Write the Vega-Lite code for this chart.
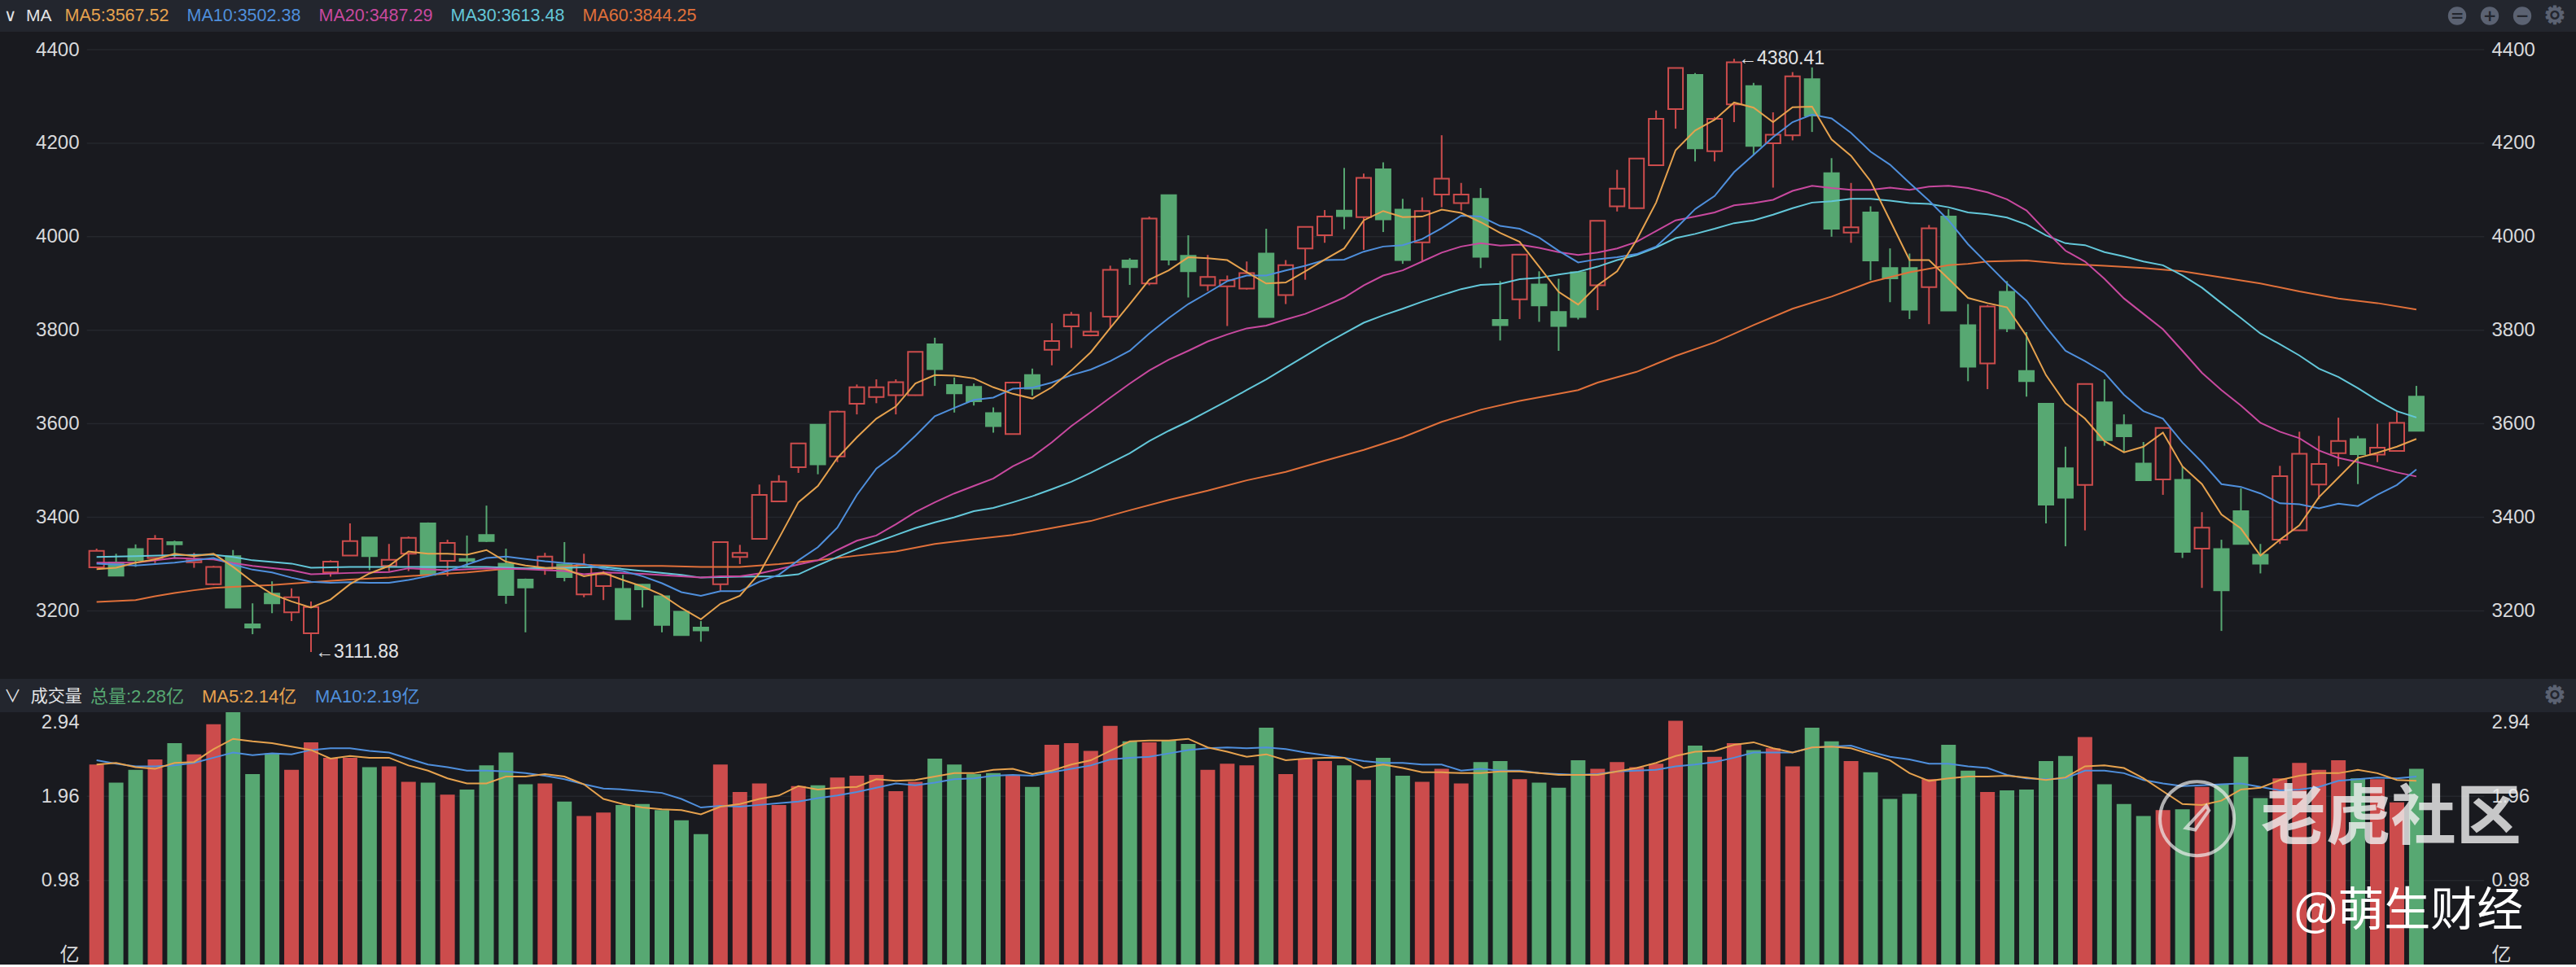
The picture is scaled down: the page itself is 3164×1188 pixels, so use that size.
{
  "$schema": "https://vega.github.io/schema/vega-lite/v6.json",
  "background": "#191a1f",
  "padding": 0,
  "spacing": 0,
  "bounds": "flush",
  "datasets": {
    "days": [
      {"i":0,"open":3293,"close":3328,"high":3333,"low":3293,"vol":2.33,"dir":"up","MA5":3289,"MA10":3301,"MA20":3303,"MA30":3315,"MA60":3219,"volMA5":2.33,"volMA10":2.38},
      {"i":1,"open":3303,"close":3275,"high":3322,"low":3275,"vol":2.12,"dir":"down","MA5":3292,"volMA5":2.35,"volMA10":2.34},
      {"i":2,"open":3332,"close":3308,"high":3342,"low":3294,"vol":2.27,"dir":"down","MA5":3303,"MA10":3297,"MA20":3303,"MA30":3317,"MA60":3223,"volMA5":2.30,"volMA10":2.31},
      {"i":3,"open":3313,"close":3354,"high":3362,"low":3302,"vol":2.39,"dir":"up","MA5":3310,"MA60":3231,"volMA5":2.28,"volMA10":2.31},
      {"i":4,"open":3347,"close":3342,"high":3350,"low":3313,"vol":2.58,"dir":"down","MA5":3322,"MA10":3303,"MA20":3313,"MA30":3319,"MA60":3238,"volMA5":2.35,"volMA10":2.32},
      {"i":5,"open":3304,"close":3308,"high":3324,"low":3292,"vol":2.45,"dir":"up","MA5":3317,"MA60":3244,"volMA5":2.36,"volMA10":2.35},
      {"i":6,"open":3257,"close":3294,"high":3296,"low":3255,"vol":2.80,"dir":"up","MA5":3322,"MA10":3313,"MA20":3310,"MA30":3320,"MA60":3249,"volMA5":2.51,"volMA10":2.41},
      {"i":7,"open":3317,"close":3207,"high":3330,"low":3207,"vol":2.94,"dir":"down","MA5":3294,"MA10":3299,"MA20":3302,"MA30":3315,"MA60":3251,"volMA5":2.63,"volMA10":2.47},
      {"i":8,"open":3171,"close":3164,"high":3216,"low":3150,"vol":2.22,"dir":"down","MA5":3262,"MA10":3288,"MA20":3296,"MA30":3308,"volMA5":2.60,"volMA10":2.44},
      {"i":9,"open":3237,"close":3216,"high":3263,"low":3195,"vol":2.46,"dir":"down","MA5":3236,"MA10":3282,"MA60":3255,"volMA5":2.58,"volMA10":2.46},
      {"i":10,"open":3197,"close":3229,"high":3248,"low":3178,"vol":2.27,"dir":"up","MA5":3220,"MA10":3271,"MA20":3287,"MA30":3301,"volMA5":2.54,"volMA10":2.45},
      {"i":11,"open":3152,"close":3208,"high":3220,"low":3111.88,"vol":2.59,"dir":"up","lowNote":"←3111.88","MA5":3207,"MA10":3262,"MA20":3278,"MA30":3292,"MA60":3261,"volMA5":2.50,"volMA10":2.50},
      {"i":12,"open":3282,"close":3305,"high":3308,"low":3273,"vol":2.41,"dir":"up","MA5":3224,"MA10":3260,"volMA5":2.40,"volMA10":2.52},
      {"i":13,"open":3318,"close":3349,"high":3387,"low":3318,"vol":2.41,"dir":"up","MA5":3257,"MA10":3261,"MA20":3281,"MA30":3294,"MA60":3267,"volMA5":2.43,"volMA10":2.52},
      {"i":14,"open":3357,"close":3317,"high":3357,"low":3287,"vol":2.30,"dir":"down","MA5":3280,"MA10":3260,"volMA5":2.41,"volMA10":2.49},
      {"i":15,"open":3296,"close":3309,"high":3343,"low":3285,"vol":2.31,"dir":"up","MA5":3296,"MA10":3260,"MA20":3283,"MA60":3271,"volMA5":2.41,"volMA10":2.47},
      {"i":16,"open":3322,"close":3356,"high":3359,"low":3285,"vol":2.13,"dir":"up","MA5":3327,"MA10":3266,"MA20":3291,"MA30":3294,"volMA5":2.32,"volMA10":2.40},
      {"i":17,"open":3387,"close":3277,"high":3389,"low":3276,"vol":2.12,"dir":"down","MA5":3322,"MA10":3274,"MA60":3277,"volMA5":2.26,"volMA10":2.33},
      {"i":18,"open":3307,"close":3345,"high":3352,"low":3274,"vol":1.98,"dir":"up","MA5":3322,"MA10":3285,"MA20":3287,"volMA5":2.17,"volMA10":2.30},
      {"i":19,"open":3311,"close":3307,"high":3361,"low":3294,"vol":2.04,"dir":"down","MA5":3320,"MA10":3299,"MA60":3282,"volMA5":2.11,"volMA10":2.26},
      {"i":20,"open":3362,"close":3349,"high":3425,"low":3347,"vol":2.32,"dir":"down","MA5":3330,"MA10":3313,"MA20":3291,"MA30":3294,"volMA5":2.11,"volMA10":2.26},
      {"i":21,"open":3301,"close":3234,"high":3333,"low":3215,"vol":2.47,"dir":"down","MA5":3305,"MA10":3316,"MA60":3290,"volMA5":2.19,"volMA10":2.25},
      {"i":22,"open":3267,"close":3250,"high":3269,"low":3154,"vol":2.10,"dir":"down","MA5":3297,"MA10":3311,"MA20":3289,"MA30":3291,"volMA5":2.19,"volMA10":2.23},
      {"i":23,"open":3290,"close":3316,"high":3324,"low":3277,"vol":2.11,"dir":"up","MA5":3292,"MA10":3306,"MA60":3291,"volMA5":2.22,"volMA10":2.20},
      {"i":24,"open":3299,"close":3272,"high":3347,"low":3263,"vol":1.90,"dir":"down","MA5":3290,"MA10":3302,"MA20":3285,"MA30":3292,"volMA5":2.19,"volMA10":2.16},
      {"i":25,"open":3235,"close":3298,"high":3322,"low":3229,"vol":1.73,"dir":"up","MA5":3274,"MA10":3300,"MA20":3278,"MA60":3298,"volMA5":2.10,"volMA10":2.10},
      {"i":26,"open":3253,"close":3278,"high":3285,"low":3223,"vol":1.77,"dir":"up","MA5":3281,"MA10":3290,"MA20":3282,"MA30":3294,"volMA5":1.93,"volMA10":2.05},
      {"i":27,"open":3247,"close":3182,"high":3277,"low":3182,"vol":1.86,"dir":"down","MA5":3266,"MA10":3285,"MA60":3296,"volMA5":1.87,"volMA10":2.04},
      {"i":28,"open":3256,"close":3246,"high":3257,"low":3207,"vol":1.87,"dir":"down","MA5":3252,"MA10":3274,"MA20":3279,"MA30":3285,"volMA5":1.83,"volMA10":2.02},
      {"i":29,"open":3231,"close":3170,"high":3231,"low":3154,"vol":1.80,"dir":"down","MA5":3234,"MA10":3259,"MA60":3296,"volMA5":1.81,"volMA10":2.00},
      {"i":30,"open":3198,"close":3148,"high":3199,"low":3147,"vol":1.68,"dir":"down","MA5":3206,"MA10":3240,"MA20":3274,"MA30":3277,"volMA5":1.80,"volMA10":1.93},
      {"i":31,"open":3164,"close":3158,"high":3178,"low":3134,"vol":1.52,"dir":"down","MA5":3182,"MA10":3232,"MA20":3271,"MA30":3271,"MA60":3294,"volMA5":1.75,"volMA10":1.83},
      {"i":32,"open":3257,"close":3347,"high":3348,"low":3243,"vol":2.33,"dir":"up","MA5":3215,"MA10":3242,"MA20":3274,"volMA5":1.84,"volMA10":1.85},
      {"i":33,"open":3315,"close":3324,"high":3341,"low":3300,"vol":2.01,"dir":"up","MA5":3232,"MA10":3242,"MA20":3274,"MA30":3273,"MA60":3294,"volMA5":1.87,"volMA10":1.84},
      {"i":34,"open":3354,"close":3448,"high":3470,"low":3353,"vol":2.11,"dir":"up","MA5":3280,"MA10":3262,"MA20":3280,"volMA5":1.93,"volMA10":1.86},
      {"i":35,"open":3434,"close":3476,"high":3490,"low":3434,"vol":1.86,"dir":"up","MA5":3355,"MA10":3277,"MA20":3289,"MA30":3274,"MA60":3300,"volMA5":1.97,"volMA10":1.88},
      {"i":36,"open":3507,"close":3558,"high":3559,"low":3495,"vol":2.08,"dir":"up","MA5":3432,"MA10":3308,"MA20":3299,"MA30":3278,"volMA5":2.08,"volMA10":1.90},
      {"i":37,"open":3598,"close":3513,"high":3599,"low":3492,"vol":2.09,"dir":"down","MA5":3467,"MA10":3336,"MA20":3308,"MA30":3297,"MA60":3308,"volMA5":2.04,"volMA10":1.94},
      {"i":38,"open":3530,"close":3626,"high":3628,"low":3518,"vol":2.18,"dir":"up","MA5":3527,"MA10":3378,"MA20":3330,"MA30":3315,"volMA5":2.06,"volMA10":1.97},
      {"i":39,"open":3643,"close":3678,"high":3684,"low":3620,"vol":2.20,"dir":"up","MA5":3571,"MA10":3448,"MA20":3350,"MA30":3332,"MA60":3318,"volMA5":2.07,"volMA10":2.01},
      {"i":40,"open":3657,"close":3678,"high":3695,"low":3644,"vol":2.21,"dir":"up","MA5":3611,"MA10":3504,"MA20":3361,"MA30":3347,"volMA5":2.16,"volMA10":2.06},
      {"i":41,"open":3661,"close":3689,"high":3695,"low":3620,"vol":2.02,"dir":"up","MA5":3637,"MA10":3535,"MA20":3385,"MA30":3362,"MA60":3327,"volMA5":2.14,"volMA10":2.11},
      {"i":42,"open":3661,"close":3754,"high":3754,"low":3660,"vol":2.13,"dir":"up","MA5":3686,"MA10":3574,"MA20":3411,"MA30":3377,"volMA5":2.15,"volMA10":2.09},
      {"i":43,"open":3770,"close":3717,"high":3784,"low":3681,"vol":2.40,"dir":"down","MA5":3704,"MA10":3616,"MA20":3432,"MA30":3389,"MA60":3343,"volMA5":2.19,"volMA10":2.12},
      {"i":44,"open":3683,"close":3665,"high":3699,"low":3624,"vol":2.33,"dir":"down","MA5":3703,"MA10":3634,"MA20":3451,"MA30":3400,"volMA5":2.23,"volMA10":2.16},
      {"i":45,"open":3679,"close":3648,"high":3686,"low":3639,"vol":2.22,"dir":"down","MA5":3697,"MA10":3651,"MA20":3467,"MA30":3413,"MA60":3353,"volMA5":2.23,"volMA10":2.17},
      {"i":46,"open":3623,"close":3595,"high":3635,"low":3581,"vol":2.23,"dir":"down","MA5":3678,"MA10":3656,"MA20":3483,"MA30":3420,"volMA5":2.27,"volMA10":2.20},
      {"i":47,"open":3578,"close":3688,"high":3690,"low":3577,"vol":2.20,"dir":"up","MA5":3664,"MA10":3675,"MA20":3509,"MA30":3432,"MA60":3362,"volMA5":2.28,"volMA10":2.21},
      {"i":48,"open":3704,"close":3675,"high":3718,"low":3660,"vol":2.07,"dir":"down","MA5":3654,"MA10":3677,"MA20":3529,"MA30":3445,"volMA5":2.22,"volMA10":2.20},
      {"i":49,"open":3758,"close":3777,"high":3815,"low":3725,"vol":2.56,"dir":"up","MA5":3678,"MA10":3688,"MA20":3560,"MA30":3460,"MA60":3377,"volMA5":2.26,"volMA10":2.24},
      {"i":50,"open":3808,"close":3833,"high":3839,"low":3762,"vol":2.58,"dir":"up","MA5":3714,"MA10":3704,"MA20":3595,"MA30":3476,"volMA5":2.33,"volMA10":2.28},
      {"i":51,"open":3789,"close":3797,"high":3839,"low":3787,"vol":2.49,"dir":"up","MA5":3753,"MA10":3716,"MA20":3625,"MA30":3495,"MA60":3392,"volMA5":2.38,"volMA10":2.32},
      {"i":52,"open":3829,"close":3929,"high":3938,"low":3805,"vol":2.78,"dir":"up","MA5":3805,"MA10":3734,"MA20":3656,"MA30":3516,"volMA5":2.49,"volMA10":2.39},
      {"i":53,"open":3949,"close":3935,"high":3954,"low":3897,"vol":2.60,"dir":"down","MA5":3856,"MA10":3756,"MA20":3686,"MA30":3537,"MA60":3415,"volMA5":2.60,"volMA10":2.41},
      {"i":54,"open":3900,"close":4039,"high":4043,"low":3896,"vol":2.59,"dir":"up","MA5":3908,"MA10":3793,"MA20":3714,"MA30":3563,"volMA5":2.61,"volMA10":2.42},
      {"i":55,"open":4089,"close":3951,"high":4090,"low":3939,"vol":2.61,"dir":"down","MA5":3928,"MA10":3826,"MA20":3737,"MA30":3585,"MA60":3437,"volMA5":2.61,"volMA10":2.46},
      {"i":56,"open":3959,"close":3926,"high":4003,"low":3870,"vol":2.57,"dir":"down","MA5":3956,"MA10":3856,"MA20":3756,"MA30":3605,"volMA5":2.63,"volMA10":2.50},
      {"i":57,"open":3896,"close":3914,"high":3961,"low":3884,"vol":2.27,"dir":"up","MA5":3954,"MA10":3880,"MA20":3776,"MA30":3627,"MA60":3457,"volMA5":2.53,"volMA10":2.52},
      {"i":58,"open":3894,"close":3907,"high":3917,"low":3809,"vol":2.34,"dir":"up","MA5":3950,"MA10":3905,"MA20":3791,"MA30":3649,"volMA5":2.48,"volMA10":2.53},
      {"i":59,"open":3889,"close":3922,"high":3947,"low":3887,"vol":2.32,"dir":"up","MA5":3924,"MA10":3917,"MA20":3804,"MA30":3672,"MA60":3479,"volMA5":2.42,"volMA10":2.52},
      {"i":60,"open":3964,"close":3828,"high":4017,"low":3828,"vol":2.76,"dir":"down","MA5":3900,"MA10":3917,"MA20":3810,"MA30":3695,"volMA5":2.45,"volMA10":2.53},
      {"i":61,"open":3875,"close":3939,"high":3950,"low":3856,"vol":2.22,"dir":"up","MA5":3902,"MA10":3928,"MA20":3823,"MA30":3720,"MA60":3497,"volMA5":2.38,"volMA10":2.51},
      {"i":62,"open":3975,"close":4021,"high":4022,"low":3908,"vol":2.40,"dir":"up","MA5":3926,"MA10":3938,"MA20":3835,"MA30":3745,"volMA5":2.40,"volMA10":2.47},
      {"i":63,"open":4003,"close":4043,"high":4057,"low":3987,"vol":2.37,"dir":"up","MA5":3951,"MA10":3950,"MA20":3852,"MA30":3770,"MA60":3521,"volMA5":2.41,"volMA10":2.44},
      {"i":64,"open":4056,"close":4044,"high":4147,"low":4016,"vol":2.32,"dir":"down","MA5":3975,"MA10":3951,"MA20":3870,"MA30":3793,"volMA5":2.41,"volMA10":2.41},
      {"i":65,"open":4042,"close":4126,"high":4135,"low":3972,"vol":2.15,"dir":"up","MA5":4035,"MA10":3968,"MA20":3896,"MA30":3816,"MA60":3544,"volMA5":2.29,"volMA10":2.37},
      {"i":66,"open":4144,"close":4037,"high":4159,"low":4010,"vol":2.41,"dir":"down","MA5":4055,"MA10":3979,"MA20":3917,"MA30":3832,"volMA5":2.33,"volMA10":2.35},
      {"i":67,"open":4058,"close":3950,"high":4081,"low":3942,"vol":2.20,"dir":"down","MA5":4042,"MA10":3982,"MA20":3928,"MA30":3846,"MA60":3571,"volMA5":2.29,"volMA10":2.35},
      {"i":68,"open":3988,"close":4055,"high":4084,"low":3949,"vol":2.13,"dir":"up","MA5":4043,"MA10":3995,"MA20":3947,"MA30":3861,"volMA5":2.24,"volMA10":2.33},
      {"i":69,"open":4090,"close":4124,"high":4217,"low":4063,"vol":2.28,"dir":"up","MA5":4058,"MA10":4018,"MA20":3966,"MA30":3875,"MA60":3604,"volMA5":2.24,"volMA10":2.33},
      {"i":70,"open":4072,"close":4090,"high":4115,"low":4056,"vol":2.11,"dir":"up","MA5":4051,"MA10":4045,"MA20":3979,"MA30":3888,"volMA5":2.23,"volMA10":2.26},
      {"i":71,"open":4081,"close":3957,"high":4104,"low":3933,"vol":2.36,"dir":"down","MA5":4031,"MA10":4043,"MA20":3986,"MA30":3897,"MA60":3630,"volMA5":2.23,"volMA10":2.28},
      {"i":72,"open":3822,"close":3811,"high":3905,"low":3778,"vol":2.37,"dir":"down","MA5":4008,"MA10":4023,"MA20":3981,"MA30":3899,"volMA5":2.25,"volMA10":2.26},
      {"i":73,"open":3866,"close":3962,"high":3963,"low":3824,"vol":2.16,"dir":"up","MA5":3989,"MA10":4017,"MA20":3983,"MA30":3909,"MA60":3649,"volMA5":2.25,"volMA10":2.26},
      {"i":74,"open":3898,"close":3853,"high":3926,"low":3818,"vol":2.12,"dir":"down","MA5":3936,"MA10":3998,"MA20":3976,"MA30":3912,"volMA5":2.23,"volMA10":2.23},
      {"i":75,"open":3839,"close":3809,"high":3910,"low":3756,"vol":2.06,"dir":"down","MA5":3882,"MA10":3970,"MA20":3967,"MA30":3919,"MA60":3664,"volMA5":2.21,"volMA10":2.22},
      {"i":76,"open":3924,"close":3828,"high":3924,"low":3823,"vol":2.38,"dir":"down","MA5":3855,"MA10":3945,"MA20":3961,"MA30":3925,"MA60":3672,"volMA5":2.21,"volMA10":2.21},
      {"i":77,"open":3896,"close":4034,"high":4034,"low":3843,"vol":2.28,"dir":"up","MA5":3896,"MA10":3952,"MA20":3966,"MA30":3936,"MA60":3688,"volMA5":2.21,"volMA10":2.22},
      {"i":78,"open":4065,"close":4103,"high":4143,"low":4054,"vol":2.36,"dir":"up","MA5":3926,"MA10":3956,"MA20":3975,"MA30":3950,"volMA5":2.25,"volMA10":2.25},
      {"i":79,"open":4061,"close":4167,"high":4167,"low":4060,"vol":2.30,"dir":"up","MA5":3993,"MA10":3963,"MA20":3989,"MA30":3961,"MA60":3711,"volMA5":2.29,"volMA10":2.26},
      {"i":80,"open":4153,"close":4252,"high":4270,"low":4152,"vol":2.34,"dir":"up","MA5":4073,"MA10":3979,"MA20":4012,"MA30":3977,"volMA5":2.35,"volMA10":2.27},
      {"i":81,"open":4273,"close":4361,"high":4361,"low":4231,"vol":2.84,"dir":"up","MA5":4185,"MA10":4017,"MA20":4035,"MA30":3997,"MA60":3745,"volMA5":2.43,"volMA10":2.31},
      {"i":82,"open":4346,"close":4189,"high":4350,"low":4161,"vol":2.55,"dir":"down","MA5":4227,"MA10":4059,"MA20":4043,"MA30":4006,"volMA5":2.48,"volMA10":2.33},
      {"i":83,"open":4183,"close":4252,"high":4256,"low":4161,"vol":2.42,"dir":"up","MA5":4250,"MA10":4087,"MA20":4052,"MA30":4017,"MA60":3774,"volMA5":2.49,"volMA10":2.36},
      {"i":84,"open":4283,"close":4373,"high":4380.41,"low":4245,"vol":2.58,"dir":"up","highNote":"←4380.41","MA5":4287,"MA10":4138,"MA20":4067,"MA30":4029,"volMA5":2.56,"volMA10":2.41},
      {"i":85,"open":4322,"close":4194,"high":4329,"low":4175,"vol":2.50,"dir":"down","MA5":4276,"MA10":4175,"MA20":4072,"MA30":4035,"MA60":3811,"volMA5":2.59,"volMA10":2.47},
      {"i":86,"open":4200,"close":4218,"high":4266,"low":4105,"vol":2.52,"dir":"up","MA5":4245,"MA10":4213,"MA20":4079,"MA30":4047,"volMA5":2.52,"volMA10":2.47},
      {"i":87,"open":4217,"close":4343,"high":4352,"low":4206,"vol":2.31,"dir":"up","MA5":4277,"MA10":4245,"MA20":4098,"MA30":4061,"MA60":3846,"volMA5":2.47,"volMA10":2.47},
      {"i":88,"open":4337,"close":4259,"high":4362,"low":4224,"vol":2.76,"dir":"down","MA5":4278,"MA10":4261,"MA20":4109,"MA30":4073,"volMA5":2.53,"volMA10":2.53},
      {"i":89,"open":4136,"close":4017,"high":4168,"low":4000,"vol":2.60,"dir":"down","MA5":4208,"MA10":4253,"MA20":4104,"MA30":4076,"MA60":3872,"volMA5":2.54,"volMA10":2.54},
      {"i":90,"open":4009,"close":4020,"high":4115,"low":3987,"vol":2.37,"dir":"up","MA5":4173,"MA10":4222,"MA20":4100,"MA30":4081,"volMA5":2.52,"volMA10":2.55},
      {"i":91,"open":4052,"close":3949,"high":4065,"low":3907,"vol":2.24,"dir":"down","MA5":4119,"MA10":4182,"MA20":4100,"MA30":4081,"MA60":3903,"volMA5":2.45,"volMA10":2.48},
      {"i":92,"open":3933,"close":3911,"high":3975,"low":3860,"vol":1.93,"dir":"down","MA5":4035,"MA10":4154,"MA20":4105,"MA30":4077,"volMA5":2.38,"volMA10":2.42},
      {"i":93,"open":3933,"close":3844,"high":3964,"low":3824,"vol":1.99,"dir":"down","MA5":3950,"MA10":4115,"MA20":4100,"MA30":4072,"MA60":3924,"volMA5":2.23,"volMA10":2.39},
      {"i":94,"open":3892,"close":4018,"high":4025,"low":3813,"vol":2.16,"dir":"up","MA5":3950,"MA10":4077,"MA20":4107,"MA30":4070,"volMA5":2.14,"volMA10":2.34},
      {"i":95,"open":4043,"close":3842,"high":4059,"low":3842,"vol":2.56,"dir":"down","MA5":3910,"MA10":4035,"MA20":4109,"MA30":4063,"MA60":3939,"volMA5":2.17,"volMA10":2.34},
      {"i":96,"open":3811,"close":3722,"high":3856,"low":3691,"vol":2.26,"dir":"down","MA5":3869,"MA10":3984,"MA20":4104,"MA30":4052,"MA60":3942,"volMA5":2.19,"volMA10":2.31},
      {"i":97,"open":3729,"close":3851,"high":3854,"low":3674,"vol":2.01,"dir":"up","MA5":3858,"MA10":3942,"MA20":4095,"MA30":4048,"MA60":3947,"volMA5":2.19,"volMA10":2.29},
      {"i":98,"open":3882,"close":3804,"high":3905,"low":3796,"vol":2.03,"dir":"down","MA5":3849,"MA10":3900,"MA20":4080,"MA30":4041,"volMA5":2.20,"volMA10":2.21},
      {"i":99,"open":3713,"close":3691,"high":3796,"low":3658,"vol":2.04,"dir":"down","MA5":3788,"MA10":3863,"MA20":4056,"MA30":4026,"MA60":3949,"volMA5":2.18,"volMA10":2.17},
      {"i":100,"open":3643,"close":3427,"high":3643,"low":3387,"vol":2.37,"dir":"down","MA5":3704,"MA10":3807,"MA20":4012,"MA30":4003,"volMA5":2.15,"volMA10":2.16},
      {"i":101,"open":3505,"close":3442,"high":3551,"low":3338,"vol":2.43,"dir":"down","MA5":3644,"MA10":3756,"MA20":3970,"MA30":3986,"MA60":3942,"volMA5":2.18,"volMA10":2.17},
      {"i":102,"open":3469,"close":3685,"high":3685,"low":3372,"vol":2.65,"dir":"up","MA5":3611,"MA10":3734,"MA20":3947,"MA30":3982,"volMA5":2.31,"volMA10":2.26},
      {"i":103,"open":3646,"close":3565,"high":3695,"low":3553,"vol":2.10,"dir":"down","MA5":3563,"MA10":3709,"MA20":3910,"MA30":3967,"MA60":3938,"volMA5":2.32,"volMA10":2.26},
      {"i":104,"open":3597,"close":3573,"high":3620,"low":3539,"vol":1.87,"dir":"down","MA5":3539,"MA10":3662,"MA20":3868,"MA30":3958,"volMA5":2.29,"volMA10":2.23},
      {"i":105,"open":3515,"close":3479,"high":3561,"low":3479,"vol":1.73,"dir":"down","MA5":3551,"MA10":3627,"MA20":3835,"MA30":3947,"MA60":3933,"volMA5":2.17,"volMA10":2.15},
      {"i":106,"open":3481,"close":3591,"high":3592,"low":3448,"vol":1.80,"dir":"up","MA5":3581,"MA10":3611,"MA20":3802,"MA30":3939,"volMA5":2.02,"volMA10":2.11},
      {"i":107,"open":3480,"close":3326,"high":3509,"low":3313,"vol":1.81,"dir":"down","MA5":3509,"MA10":3560,"MA20":3756,"MA30":3917,"MA60":3926,"volMA5":1.87,"volMA10":2.08},
      {"i":108,"open":3333,"close":3378,"high":3411,"low":3249,"vol":2.07,"dir":"up","MA5":3471,"MA10":3518,"MA20":3709,"MA30":3891,"volMA5":1.86,"volMA10":2.09},
      {"i":109,"open":3332,"close":3244,"high":3352,"low":3157,"vol":2.10,"dir":"down","MA5":3406,"MA10":3471,"MA20":3672,"MA30":3858,"MA60":3913,"volMA5":1.91,"volMA10":2.10},
      {"i":110,"open":3413,"close":3343,"high":3462,"low":3343,"vol":2.42,"dir":"down","MA5":3376,"MA10":3465,"MA20":3639,"MA30":3826,"volMA5":2.04,"volMA10":2.11},
      {"i":111,"open":3320,"close":3301,"high":3343,"low":3280,"vol":1.94,"dir":"down","MA5":3318,"MA10":3451,"MA20":3602,"MA30":3793,"MA60":3900,"volMA5":2.06,"volMA10":2.07},
      {"i":112,"open":3352,"close":3488,"high":3510,"low":3343,"vol":2.17,"dir":"up","MA5":3352,"MA10":3430,"MA20":3583,"MA30":3770,"volMA5":2.15,"volMA10":2.03},
      {"i":113,"open":3372,"close":3536,"high":3583,"low":3371,"vol":2.35,"dir":"up","MA5":3383,"MA10":3428,"MA20":3569,"MA30":3746,"MA60":3883,"volMA5":2.20,"volMA10":2.04},
      {"i":114,"open":3470,"close":3514,"high":3574,"low":3439,"vol":2.27,"dir":"up","MA5":3443,"MA10":3419,"MA20":3543,"MA30":3718,"volMA5":2.23,"volMA10":2.07},
      {"i":115,"open":3537,"close":3563,"high":3613,"low":3509,"vol":2.38,"dir":"up","MA5":3485,"MA10":3429,"MA20":3527,"MA30":3700,"MA60":3868,"volMA5":2.23,"volMA10":2.14},
      {"i":116,"open":3567,"close":3535,"high":3574,"low":3471,"vol":2.17,"dir":"down","MA5":3527,"MA10":3424,"MA20":3518,"MA30":3676,"volMA5":2.27,"volMA10":2.16},
      {"i":117,"open":3534,"close":3549,"high":3600,"low":3518,"vol":2.16,"dir":"up","MA5":3538,"MA10":3448,"MA20":3507,"MA30":3650,"MA60":3858,"volMA5":2.23,"volMA10":2.18},
      {"i":118,"open":3542,"close":3602,"high":3625,"low":3542,"vol":1.89,"dir":"up","MA5":3551,"MA10":3469,"MA20":3496,"MA30":3627,"volMA5":2.15,"volMA10":2.17},
      {"i":119,"open":3658,"close":3585,"high":3681,"low":3585,"vol":2.28,"dir":"down","MA5":3567.52,"MA10":3502.38,"MA20":3487.29,"MA30":3613.48,"MA60":3844.25,"volMA5":2.14,"volMA10":2.19}
    ]
  },
  "vconcat": [
    {
      "width": 3164,
      "height": 39,
      "view": {"fill": "#23262e", "stroke": null},
      "data": {"values": [
        {"icon": "reset", "glyph": "="},
        {"icon": "in", "glyph": "+"},
        {"icon": "out", "glyph": "−"},
        {"icon": "settings", "glyph": "⚙"}
      ]},
      "encoding": {
        "x": {"field": "icon", "type": "nominal", "axis": null, "sort": null,
          "scale": {"type": "point", "domain": ["reset", "in", "out", "settings"], "range": [3018, 3138], "padding": 0}},
        "text": {"field": "glyph"}
      },
      "layer": [
        {"transform": [{"filter": "datum.icon !== 'settings'"}],
         "mark": {"type": "point", "shape": "circle", "filled": true, "size": 500, "color": "#5b6272", "opacity": 1}},
        {"transform": [{"filter": "datum.icon !== 'settings'"}],
         "mark": {"type": "text", "font": "DejaVu Sans", "fontSize": 20, "fontWeight": "bold", "color": "#23262e"}},
        {"transform": [{"filter": "datum.icon === 'settings'"}],
         "mark": {"type": "text", "font": "DejaVu Sans", "fontSize": 30, "color": "#5b6272", "stroke": "#5b6272", "strokeWidth": 1.5}}
      ]
    },
    {
      "width": 3164,
      "height": 795,
      "data": {"name": "days"},
      "resolve": {"axis": {"y": "independent"}},
      "layer": [
        {
          "data": {"values": [{"level": 3200}, {"level": 3400}, {"level": 3600}, {"level": 3800}, {"level": 4000}, {"level": 4200}, {"level": 4400}]},
          "mark": {"type": "rule", "color": "#25272d", "strokeWidth": 1.5},
          "encoding": {
            "x": {"datum": -0.5, "type": "quantitative", "axis": null, "scale": {"domain": [-4.746, 126.98], "nice": false, "zero": false}},
            "x2": {"datum": 122.48},
            "y": {
              "field": "level", "type": "quantitative",
              "scale": {"domain": [3054.5, 4438.3], "nice": false, "zero": false},
              "axis": {"orient": "left", "offset": -102, "title": null, "domain": false, "ticks": false, "grid": false,
                "values": [3200, 3400, 3600, 3800, 4000, 4200, 4400], "format": "d",
                "labelFont": "Liberation Sans", "labelFontSize": 24, "labelColor": "#d8d9db", "labelPadding": 5}
            }
          }
        },
        {
          "mark": {"type": "rule", "strokeWidth": 2},
          "encoding": {
            "x": {"field": "i", "type": "quantitative", "axis": null},
            "y": {
              "field": "low", "type": "quantitative",
              "scale": {"domain": [3054.5, 4438.3], "nice": false, "zero": false},
              "axis": {"orient": "right", "offset": -108, "title": null, "domain": false, "ticks": false, "grid": false,
                "values": [3200, 3400, 3600, 3800, 4000, 4200, 4400], "format": "d",
                "labelFont": "Liberation Sans", "labelFontSize": 24, "labelColor": "#d8d9db", "labelPadding": 4}
            },
            "y2": {"field": "high"},
            "color": {"condition": {"test": "datum.dir === 'up'", "value": "#cc4c4c"}, "value": "#57a872"}
          }
        },
        {
          "mark": {"type": "bar", "orient": "vertical", "size": 18, "strokeWidth": 2},
          "encoding": {
            "x": {"field": "i", "type": "quantitative", "axis": null},
            "y": {"field": "open", "type": "quantitative", "axis": null},
            "y2": {"field": "close"},
            "fill": {"condition": {"test": "datum.dir === 'up'", "value": "#191a1f"}, "value": "#57a872"},
            "stroke": {"condition": {"test": "datum.dir === 'up'", "value": "#cc4c4c"}, "value": "#57a872"}
          }
        },
        {
          "transform": [
            {"fold": ["MA60", "MA30", "MA20", "MA10", "MA5"], "as": ["series", "value"]},
            {"filter": "datum.value != null"}
          ],
          "mark": {"type": "line", "strokeWidth": 2},
          "encoding": {
            "x": {"field": "i", "type": "quantitative", "axis": null},
            "y": {"field": "value", "type": "quantitative", "axis": null},
            "stroke": {
              "field": "series", "type": "nominal",
              "scale": {"domain": ["MA5", "MA10", "MA20", "MA30", "MA60"], "range": ["#e6a24e", "#4f8fdc", "#c8499f", "#63c7d9", "#e0703a"]},
              "legend": {
                "orient": "none", "legendX": 5, "legendY": -30, "direction": "horizontal", "columns": 5,
                "title": "∨\u00a0\u00a0MA", "titleOrient": "left", "titleFont": "Liberation Sans, DejaVu Sans", "titleFontSize": 21, "titleFontWeight": "normal", "titleColor": "#e2e3e5", "titlePadding": -6,
                "symbolSize": 0, "symbolOpacity": 0, "symbolStrokeWidth": 0, "labelOffset": 0, "columnPadding": -16,
                "labelFont": "Liberation Sans", "labelFontSize": 21.5, "labelLimit": 0,
                "labelColor": {"expr": "{'MA5':'#e6a24e','MA10':'#4f8fdc','MA20':'#c8499f','MA30':'#63c7d9','MA60':'#e0703a'}[datum.value]"},
                "labelExpr": "{'MA5':'MA5:3567.52','MA10':'MA10:3502.38','MA20':'MA20:3487.29','MA30':'MA30:3613.48','MA60':'MA60:3844.25'}[datum.value]"
              }
            }
          }
        },
        {
          "transform": [{"filter": "datum.highNote != null"}],
          "mark": {"type": "text", "align": "left", "baseline": "middle", "dx": 5, "font": "Liberation Sans, DejaVu Sans", "fontSize": 23, "color": "#e2e3e5"},
          "encoding": {
            "x": {"field": "i", "type": "quantitative", "axis": null},
            "y": {"field": "high", "type": "quantitative", "axis": null},
            "text": {"field": "highNote"}
          }
        },
        {
          "transform": [{"filter": "datum.lowNote != null"}],
          "mark": {"type": "text", "align": "left", "baseline": "middle", "dx": 5, "font": "Liberation Sans, DejaVu Sans", "fontSize": 23, "color": "#e2e3e5"},
          "encoding": {
            "x": {"field": "i", "type": "quantitative", "axis": null},
            "y": {"field": "low", "type": "quantitative", "axis": null},
            "text": {"field": "lowNote"}
          }
        }
      ]
    },
    {
      "width": 3164,
      "height": 41,
      "view": {"fill": "#23262e", "stroke": null},
      "data": {"values": [{"icon": "settings", "glyph": "⚙"}]},
      "mark": {"type": "text", "font": "DejaVu Sans", "fontSize": 30, "color": "#5b6272", "stroke": "#5b6272", "strokeWidth": 1.5},
      "encoding": {
        "x": {"field": "icon", "type": "nominal", "axis": null,
          "scale": {"type": "point", "domain": ["settings"], "range": [3138, 3138], "padding": 0}},
        "text": {"field": "glyph"}
      }
    },
    {
      "width": 3164,
      "height": 310,
      "data": {"name": "days"},
      "resolve": {"axis": {"y": "independent"}},
      "layer": [
        {
          "data": {"values": [{"level": 0.98}, {"level": 1.96}]},
          "mark": {"type": "rule", "color": "#25272d", "strokeWidth": 1.5},
          "encoding": {
            "x": {"datum": -0.5, "type": "quantitative", "axis": null, "scale": {"domain": [-4.746, 126.98], "nice": false, "zero": false}},
            "x2": {"datum": 122.48},
            "y": {
              "field": "level", "type": "quantitative",
              "scale": {"domain": [0, 2.94], "nice": false},
              "axis": {"orient": "left", "offset": -102, "title": null, "domain": false, "ticks": false, "grid": false,
                "values": [0, 0.98, 1.96, 2.94], "format": ".2f", "labelExpr": "datum.value === 0 ? '亿' : datum.label", "labelFlush": true,
                "labelFont": "Liberation Sans, Noto Sans CJK SC", "labelFontSize": 24, "labelColor": "#d8d9db", "labelPadding": 5}
            }
          }
        },
        {
          "mark": {"type": "bar", "orient": "vertical", "size": 18},
          "encoding": {
            "x": {"field": "i", "type": "quantitative", "axis": null},
            "y": {
              "field": "vol", "type": "quantitative",
              "axis": {"orient": "right", "offset": -108, "title": null, "domain": false, "ticks": false, "grid": false,
                "values": [0, 0.98, 1.96, 2.94], "format": ".2f", "labelExpr": "datum.value === 0 ? '亿' : datum.label", "labelFlush": true,
                "labelFont": "Liberation Sans, Noto Sans CJK SC", "labelFontSize": 24, "labelColor": "#d8d9db", "labelPadding": 4}
            },
            "color": {"condition": {"test": "datum.dir === 'up'", "value": "#cc4c4c"}, "value": "#57a872"}
          }
        },
        {
          "transform": [
            {"fold": ["volMA10", "volMA5"], "as": ["series", "value"]}
          ],
          "mark": {"type": "line", "strokeWidth": 2},
          "encoding": {
            "x": {"field": "i", "type": "quantitative", "axis": null},
            "y": {"field": "value", "type": "quantitative", "axis": null},
            "stroke": {
              "field": "series", "type": "nominal",
              "scale": {"domain": ["total", "volMA5", "volMA10"], "range": ["#57a872", "#e6a24e", "#4f8fdc"]},
              "legend": {
                "orient": "none", "legendX": 5, "legendY": -30, "direction": "horizontal", "columns": 3,
                "title": "∨\u00a0\u00a0成交量", "titleOrient": "left", "titleFont": "Liberation Sans, Noto Sans CJK SC", "titleFontSize": 21, "titleFontWeight": "normal", "titleColor": "#e2e3e5", "titlePadding": -12,
                "symbolSize": 0, "symbolOpacity": 0, "symbolStrokeWidth": 0, "labelOffset": 0, "columnPadding": -14,
                "labelFont": "Liberation Sans, Noto Sans CJK SC", "labelFontSize": 22, "labelLimit": 0,
                "labelColor": {"expr": "{'total':'#57a872','volMA5':'#e6a24e','volMA10':'#4f8fdc'}[datum.value]"},
                "labelExpr": "{'total':'总量:2.28亿','volMA5':'MA5:2.14亿','volMA10':'MA10:2.19亿'}[datum.value]"
              }
            }
          }
        },
        {
          "data": {"values": [{"brand": "老虎社区"}]},
          "mark": {"type": "text", "font": "Noto Sans CJK SC", "fontWeight": "bold", "fontSize": 80, "color": "#eeeeee", "opacity": 0.82},
          "encoding": {
            "x": {"datum": 117.7, "type": "quantitative"},
            "y": {"datum": 1.70, "type": "quantitative", "axis": null},
            "text": {"field": "brand"}
          }
        },
        {
          "data": {"values": [{"brand": "@萌生财经"}]},
          "mark": {"type": "text", "font": "Noto Sans CJK SC", "fontSize": 57, "color": "#ffffff"},
          "encoding": {
            "x": {"datum": 118.6, "type": "quantitative"},
            "y": {"datum": 0.62, "type": "quantitative", "axis": null},
            "text": {"field": "brand"}
          }
        },
        {
          "data": {"values": [{"brand": "logo"}]},
          "mark": {"type": "point", "shape": "circle", "filled": false, "size": 8300, "color": "#eeeeee", "strokeWidth": 4, "opacity": 0.7},
          "encoding": {
            "x": {"datum": 107.75, "type": "quantitative"},
            "y": {"datum": 1.70, "type": "quantitative", "axis": null}
          }
        },
        {
          "data": {"values": [{"brand": "logo"}]},
          "mark": {"type": "point", "shape": "M-0.3,0.25 L0.25,-0.35 L0.32,-0.22 L-0.05,0.3 Z", "filled": false, "size": 8300, "color": "#eeeeee", "strokeWidth": 4, "opacity": 0.7},
          "encoding": {
            "x": {"datum": 107.75, "type": "quantitative"},
            "y": {"datum": 1.70, "type": "quantitative", "axis": null}
          }
        }
      ]
    }
  ],
  "resolve": {"scale": {"stroke": "independent"}, "legend": {"stroke": "independent"}},
  "config": {"view": {"stroke": null}, "concat": {"spacing": 0}}
}
